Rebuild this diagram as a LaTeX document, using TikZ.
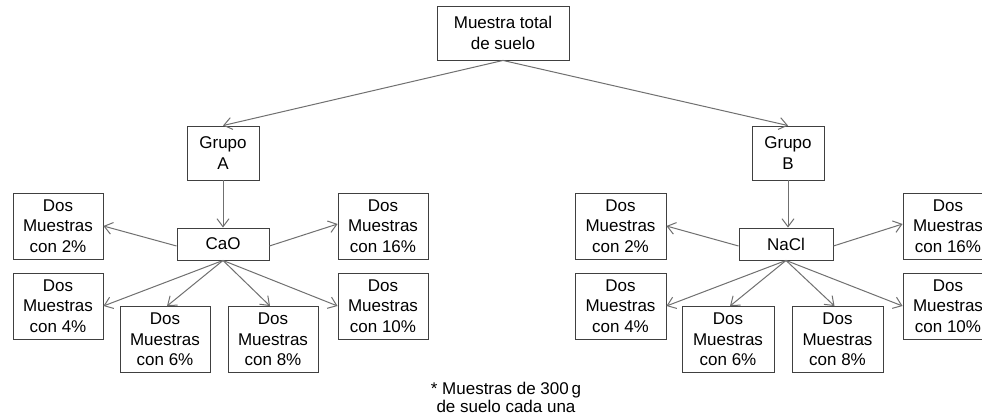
\documentclass[tikz,border=0pt]{standalone}
\usepackage{fontspec}
\setmainfont{Liberation Sans}
\usetikzlibrary{arrows.meta}
\definecolor{boxline}{HTML}{404040}
\definecolor{arrline}{HTML}{707070}
\begin{document}
\begin{tikzpicture}[x=1pt,y=-1pt,
  every node/.style={font=\fontsize{17}{20.5}\selectfont},
  box/.style={draw=boxline, line width=0.9pt, minimum width=90pt, minimum height=66pt, inner sep=0pt, align=center},
  small/.style={draw=boxline, line width=0.9pt, minimum width=72pt, minimum height=54pt, inner sep=0pt, align=center},
  chem/.style={draw=boxline, line width=0.9pt, minimum height=32pt, inner sep=0pt, align=center},
  arr/.style={draw=arrline, line width=1pt, -{Straight Barb[length=8pt,width=12pt]}}]
\useasboundingbox (0,0) rectangle (982,414);
\clip (0,0) rectangle (982,414);
\fill[white] (0,0) rectangle (982,414);
% top
\node[draw=boxline, line width=0.9pt, minimum width=132pt, minimum height=54pt, inner sep=0pt, align=center] (top) at (503,33) {Muestra total\\de suelo};
\node[small] (ga) at (223,153) {Grupo\\A};
\node[small] (gb) at (788,153) {Grupo\\B};
% left group
\node[chem, minimum width=92pt] (cao) at (223,244) {CaO};
\node[box] (a2) at (58,226) {Dos\\Muestras\\con 2\%};
\node[box] (a16) at (383,226) {Dos\\Muestras\\con 16\%};
\node[box] (a4) at (58,306) {Dos\\Muestras\\con 4\%};
\node[box] (a10) at (383,306) {Dos\\Muestras\\con 10\%};
\node[box] (a6) at (165,339.5) {Dos\\Muestras\\con 6\%};
\node[box] (a8) at (273,339.5) {Dos\\Muestras\\con 8\%};
% right group
\node[chem, minimum width=94pt] (nacl) at (786,244) {NaCl};
\node[box, minimum width=91pt] (b2) at (620.5,226) {Dos\\Muestras\\con 2\%};
\node[box] (b16) at (948,226) {Dos\\Muestras\\con 16\%};
\node[box, minimum width=91pt] (b4) at (620.5,306) {Dos\\Muestras\\con 4\%};
\node[box] (b10) at (948,306) {Dos\\Muestras\\con 10\%};
\node[box, minimum width=92pt] (b6) at (728,339.5) {Dos\\Muestras\\con 6\%};
\node[box, minimum width=91pt] (b8) at (837.5,339.5) {Dos\\Muestras\\con 8\%};
% footnote
\node[align=center, font=\fontsize{17}{18}\selectfont] (note) at (506,397) {* Muestras de 300\,g\\de suelo cada una};
% arrows
\draw[arr] (top.south) -- (ga.north);
\draw[arr] (top.south) -- (gb.north);
\draw[arr] (ga.south) -- (ga.south |- cao.north);
\draw[arr] (gb.south) -- (gb.south |- nacl.north);
\draw[arr] ([yshift=-2pt]cao.west) -- (a2.east);
\draw[arr] ([yshift=-2pt]cao.east) -- ([yshift=2pt]a16.west);
\draw[arr] (cao.south) -- (a4.east);
\draw[arr] (cao.south) -- ([xshift=2pt]a6.north);
\draw[arr] (cao.south) -- ([xshift=-3pt]a8.north);
\draw[arr] (cao.south) -- (a10.west);
\draw[arr] ([yshift=-2pt]nacl.west) -- (b2.east);
\draw[arr] ([yshift=-2pt]nacl.east) -- ([yshift=2pt]b16.west);
\draw[arr] (nacl.south) -- (b4.east);
\draw[arr] (nacl.south) -- ([xshift=2pt]b6.north);
\draw[arr] (nacl.south) -- ([xshift=-3pt]b8.north);
\draw[arr] (nacl.south) -- (b10.west);
\end{tikzpicture}
\end{document}
